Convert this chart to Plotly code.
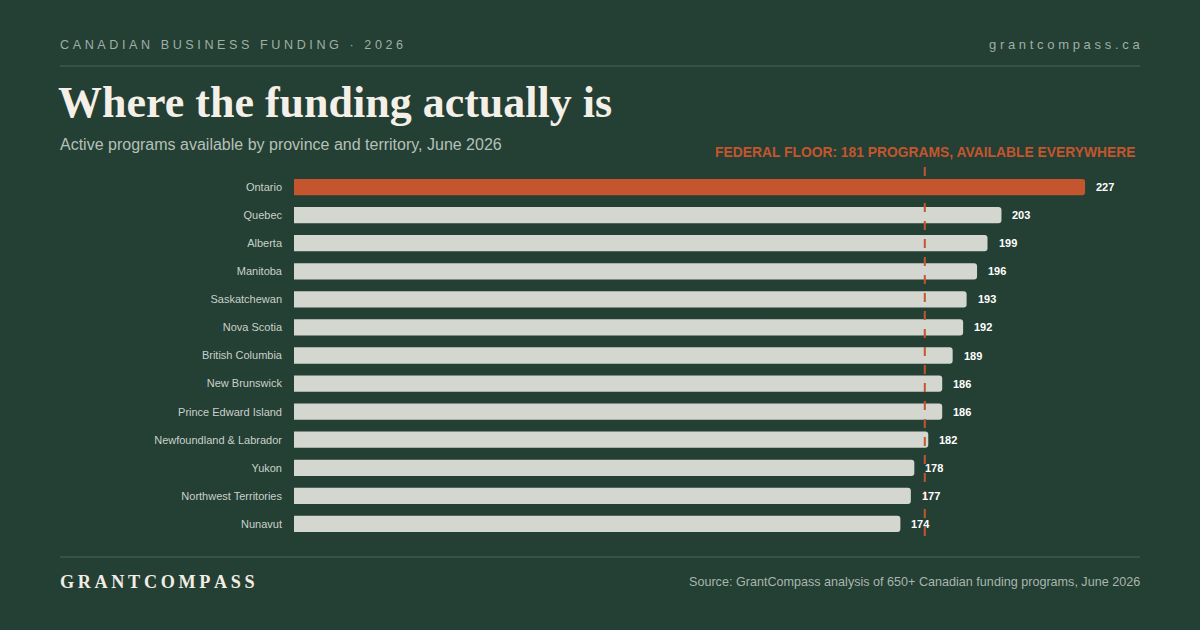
import plotly.graph_objects as go

provinces = ["Ontario", "Quebec", "Alberta", "Manitoba", "Saskatchewan", "Nova Scotia",
             "British Columbia", "New Brunswick", "Prince Edward Island",
             "Newfoundland & Labrador", "Yukon", "Northwest Territories", "Nunavut"]
programs = [227, 203, 199, 196, 193, 192, 189, 186, 186, 182, 178, 177, 174]
federal_floor = 181
highlight = "Ontario"

BG = "#243f33"
ORANGE = "#c4552e"
GREY_BAR = "#d3d7d0"
W, H = 1200, 630

def spaced(s, sep="\u2009"):
    return sep.join(s)

colors = [ORANGE if p == highlight else GREY_BAR for p in provinces]

fig = go.Figure()
fig.add_trace(go.Bar(
    x=programs, y=provinces, orientation="h",
    marker=dict(color=colors, line=dict(width=0)),
    width=0.58, hoverinfo="skip",
))

# value labels
for p, v in zip(provinces, programs):
    fig.add_annotation(x=v, y=p, xref="x", yref="y", text=f"<b>{v}</b>",
                       showarrow=False, xanchor="left", xshift=9,
                       font=dict(family="Liberation Sans", size=11, color="#ffffff"))

# federal floor line
fig.add_shape(type="line", xref="x", yref="paper", x0=federal_floor, x1=federal_floor,
              y0=1 - 536 / H, y1=1 - 164 / H,
              line=dict(color=ORANGE, width=2, dash="dash"))
fig.add_annotation(x=1137 / W, y=1 - 152 / H, xref="paper", yref="paper",
                   text=f"<b>FEDERAL FLOOR: {federal_floor} PROGRAMS, AVAILABLE EVERYWHERE</b>",
                   showarrow=False, xanchor="right", yanchor="middle",
                   font=dict(family="Liberation Sans", size=13.85, color=ORANGE))

# header
fig.add_annotation(x=58 / W, y=1 - 45 / H, xref="paper", yref="paper",
                   text=spaced("CANADIAN BUSINESS FUNDING · 2026", "\u2009\u200a"),
                   showarrow=False, xanchor="left", yanchor="middle",
                   font=dict(family="Liberation Sans", size=12.6, color="#9fb0a6"))
fig.add_annotation(x=1142 / W, y=1 - 45 / H, xref="paper", yref="paper",
                   text=spaced("grantcompass.ca", "\u2009\u200a"),
                   showarrow=False, xanchor="right", yanchor="middle",
                   font=dict(family="Liberation Sans", size=13, color="#9fb0a6"))
fig.add_shape(type="line", xref="paper", yref="paper", x0=60 / W, x1=1140 / W,
              y0=1 - 66 / H, y1=1 - 66 / H, line=dict(color="#3e5a4c", width=1.5))

fig.add_annotation(x=56 / W, y=1 - 103 / H, xref="paper", yref="paper",
                   text="<b>Where the funding actually is</b>",
                   showarrow=False, xanchor="left", yanchor="middle",
                   font=dict(family="Liberation Serif", size=44, color="#f4f0e8"))
fig.add_annotation(x=58 / W, y=1 - 145 / H, xref="paper", yref="paper",
                   text="Active programs available by province and territory, June 2026",
                   showarrow=False, xanchor="left", yanchor="middle",
                   font=dict(family="Liberation Sans", size=16, color="#b5c1b9"))

# footer
fig.add_shape(type="line", xref="paper", yref="paper", x0=60 / W, x1=1140 / W,
              y0=1 - 557 / H, y1=1 - 557 / H, line=dict(color="#3e5a4c", width=1.5))
fig.add_annotation(x=58 / W, y=1 - 582 / H, xref="paper", yref="paper",
                   text="<b>" + spaced("GRANTCOMPASS", "\u2009") + "</b>",
                   showarrow=False, xanchor="left", yanchor="middle",
                   font=dict(family="Liberation Serif", size=18.2, color="#f1ede5"))
fig.add_annotation(x=1142 / W, y=1 - 582 / H, xref="paper", yref="paper",
                   text="Source: GrantCompass analysis of 650+ Canadian funding programs, June 2026",
                   showarrow=False, xanchor="right", yanchor="middle",
                   font=dict(family="Liberation Sans", size=12.6, color="#a9b6ae"))

fig.update_layout(
    width=W, height=H,
    margin=dict(l=0, r=0, t=0, b=0),
    paper_bgcolor=BG, plot_bgcolor=BG,
    showlegend=False,
    barcornerradius=3,
    xaxis=dict(domain=[294 / W, 1140 / W], range=[0, 846 / 3.485],
               visible=False, fixedrange=True),
    yaxis=dict(domain=[1 - 538 / H, 1 - 173 / H], categoryorder="array",
               categoryarray=provinces, autorange="reversed",
               showgrid=False, zeroline=False, showline=False, ticks="",
               ticklabelstandoff=11,
               tickfont=dict(family="Liberation Sans", size=11, color="#c9d1cb")),
)

fig.write_html("out.html")
